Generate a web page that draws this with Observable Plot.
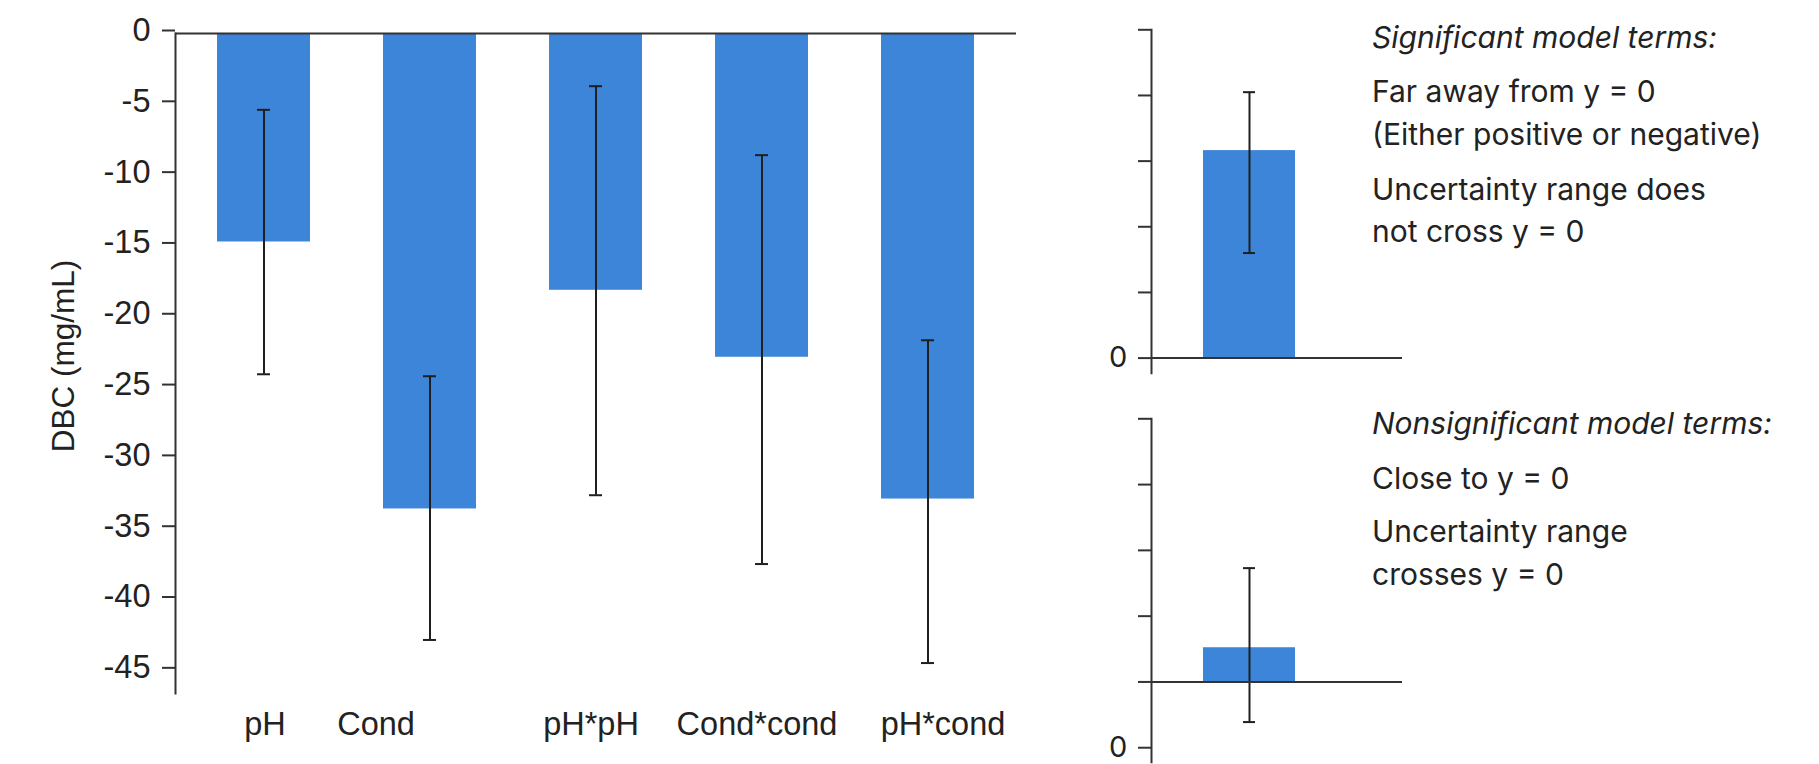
<!DOCTYPE html>
<html>
<head>
<meta charset="utf-8">
<script src="https://cdn.jsdelivr.net/npm/d3@7"></script>
<script src="https://cdn.jsdelivr.net/npm/@observablehq/plot@0.6"></script>
<style>
  html, body { margin: 0; padding: 0; background: #fff; }
  #root { position: relative; width: 1819px; height: 764px; overflow: hidden; background: #fff; }
  .panel { position: absolute; }
  .panel svg { overflow: visible; }
  #overlay { position: absolute; left: 0; top: 0; pointer-events: none; }
</style>
</head>
<body>
<div id="root">
  <div id="main" class="panel" style="left:0;top:0"></div>
  <div id="sig" class="panel" style="left:1080px;top:0"></div>
  <div id="nonsig" class="panel" style="left:1080px;top:400px"></div>
</div>
<script>
// ---------- data ----------
const terms   = ["pH", "Cond", "pH*pH", "Cond*cond", "pH*cond"];
const effects = [-14.72, -33.57, -18.13, -22.86, -32.87];
const lower   = [-24.06, -42.82, -32.60, -37.46, -44.45];
const upper   = [-5.39, -24.20, -3.72, -8.59, -21.66];
const yTicks  = [0, -5, -10, -15, -20, -25, -30, -35, -40, -45];
const yTitle  = "DBC (mg/mL)";

// illustrative example panels
const sigTerm = ["significant"];
const sigEffect = [3.16];
const sigLower = [1.60];
const sigUpper = [4.05];
const sigTicks = [0, 1, 2, 3, 4, 5];

const nonsigTerm = ["nonsignificant"];
const nonsigEffect = [0.52];
const nonsigLower = [-0.61];
const nonsigUpper = [1.73];
const nonsigTicks = [-1, 0, 1, 2, 3, 4];

const sigNotes = ["Significant model terms:", "Far away from y = 0", "(Either positive or negative)", "Uncertainty range does", "not cross y = 0"];
const nonsigNotes = ["Nonsignificant model terms:", "Close to y = 0", "Uncertainty range", "crosses y = 0"];

// ---------- styles / layout ----------
const BAR = "#3c85d9";
const INK = "#1f1f1f";
const AXIS = "#333333";
const MAIN_FONT = '"Liberation Sans", Arial, sans-serif';
const NOTE_FONT = 'Inter, "Noto Sans", sans-serif';
const labelNudge = [1, -54, -5, -5, 15];   // horizontal nudge of the category labels (px)

// ---------- main chart ----------
const mainData = terms.map((t, i) => ({term: t, effect: effects[i], lo: lower[i], hi: upper[i]}));

const labelMarks = terms.map((t, i) =>
  Plot.text([t], {x: d => d, frameAnchor: "bottom", dy: 41, dx: labelNudge[i],
                  fontSize: 32.5, fill: "#222", lineAnchor: "bottom"}));

const main = Plot.plot({
  width: 1030, height: 764,
  marginLeft: 175, marginRight: 14, marginTop: 33, marginBottom: 71,
  style: {fontFamily: MAIN_FONT, color: "#222", background: "transparent", overflow: "visible"},
  x: {domain: terms, paddingInner: 0.44, paddingOuter: 0.253, label: null, axis: null},
  y: {domain: [-46.6, 0], label: null},
  marks: [
    Plot.barY(mainData, {x: "term", y: "effect", fill: BAR}),
    Plot.ruleX(mainData, {x: "term", y1: "lo", y2: "hi", stroke: INK, strokeWidth: 2}),
    Plot.tickY(mainData, {x: "term", y: "lo", stroke: INK, strokeWidth: 2, inset: 40}),
    Plot.tickY(mainData, {x: "term", y: "hi", stroke: INK, strokeWidth: 2, inset: 40}),
    Plot.ruleY([0], {stroke: AXIS, strokeWidth: 2}),
    Plot.frame({anchor: "left", stroke: AXIS, strokeWidth: 2}),
    Plot.axisY({ticks: yTicks, tickFormat: d => String(d), tickSize: 13, tickPadding: 12,
                label: null, fontSize: 32.5, dy: -3, stroke: AXIS, strokeWidth: 2}),
    ...labelMarks
  ]
});
document.getElementById("main").appendChild(main);

// ---------- example panels ----------
function examplePanel(termArr, eff, lo, hi, ticks, domain, h, mt, mb, fmt) {
  const d = termArr.map((t, i) => ({term: t, effect: eff[i], lo: lo[i], hi: hi[i]}));
  return Plot.plot({
    width: 322, height: h,
    marginLeft: 71, marginRight: 0, marginTop: mt, marginBottom: mb,
    style: {fontFamily: NOTE_FONT, color: "#222", background: "transparent", overflow: "visible"},
    x: {domain: termArr, paddingInner: 0, paddingOuter: 0.854, align: 0.33, axis: null},
    y: {domain: domain, label: null},
    marks: [
      Plot.barY(d, {x: "term", y: "effect", fill: BAR}),
      Plot.ruleX(d, {x: "term", y1: "lo", y2: "hi", stroke: INK, strokeWidth: 2}),
      Plot.tickY(d, {x: "term", y: "lo", stroke: INK, strokeWidth: 2, inset: 40}),
      Plot.tickY(d, {x: "term", y: "hi", stroke: INK, strokeWidth: 2, inset: 40}),
      Plot.ruleY([0], {stroke: AXIS, strokeWidth: 2}),
      Plot.frame({anchor: "left", stroke: AXIS, strokeWidth: 2}),
      Plot.axisY({ticks: ticks, tickFormat: fmt, tickSize: 13, tickPadding: 11,
                  label: null, fontSize: 29, stroke: AXIS, strokeWidth: 2})
    ]
  });
}

document.getElementById("sig").appendChild(
  examplePanel(sigTerm, sigEffect, sigLower, sigUpper, sigTicks, [-0.23, 5], 380, 29.3, 7.3,
               d => d === 0 ? "0" : ""));
document.getElementById("nonsig").appendChild(
  examplePanel(nonsigTerm, nonsigEffect, nonsigLower, nonsigUpper, nonsigTicks, [-1.22, 4], 364, 18.3, 2.3,
               d => d === -1 ? "0" : ""));

// ---------- text overlay (axis title + notes) ----------
const overlay = d3.select("#root").append("svg")
  .attr("id", "overlay").attr("width", 1819).attr("height", 764);

overlay.append("text")
  .attr("transform", "translate(74,356) rotate(-90)")
  .attr("text-anchor", "middle")
  .attr("font-family", MAIN_FONT).attr("font-size", 31.5).attr("fill", "#222")
  .text(yTitle);

const sigBase = [48, 102, 145, 200, 242];
const nonsigBase = [434, 489, 542, 585];
function notes(lines, bases) {
  lines.forEach((s, i) => {
    overlay.append("text")
      .attr("x", 1372).attr("y", bases[i])
      .attr("font-family", NOTE_FONT).attr("font-size", 30).attr("fill", "#222")
      .attr("font-style", i === 0 ? "italic" : "normal")
      .text(s);
  });
}
notes(sigNotes, sigBase);
notes(nonsigNotes, nonsigBase);
</script>
</body>
</html>
